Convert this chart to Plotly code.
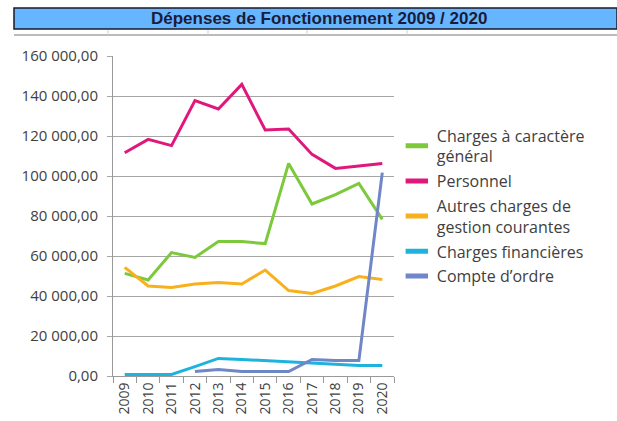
import plotly.graph_objects as go

years = [str(y) for y in range(2009, 2021)]
charges_generales = [51300, 48000, 61700, 59300, 67200, 67200, 66200, 106300, 86000, 90700, 96300, 78300]
personnel = [111600, 118300, 115200, 137700, 133500, 145800, 123000, 123500, 110800, 103800, 105000, 106300]
autres_charges = [54300, 45000, 44200, 46000, 46700, 46000, 53000, 42700, 41300, 45000, 49700, 48300]
charges_financieres = [800, 800, 800, 4700, 8800, 8300, 7700, 6800, 6300, 5800, 5200, 5200]
compte_ordre = [None, None, None, 2200, 3300, 2200, 2200, 2200, 8300, 7700, 7700, 101700]

series = [
    ("Charges à caractère<br>général", charges_generales, "#7DC93C"),
    ("Personnel", personnel, "#E0187C"),
    ("Autres charges de<br>gestion courantes", autres_charges, "#F8B01C"),
    ("Charges financières", charges_financieres, "#1DB3DE"),
    ("Compte d’ordre", compte_ordre, "#6F86C8"),
]

fig = go.Figure()
for i, (name, vals, col) in enumerate(series):
    fig.add_trace(go.Scatter(x=years, y=vals, mode="lines", name=name,
                             line=dict(color=col, width=3), showlegend=False,
                             connectgaps=False))
for i, (name, vals, col) in enumerate(series):
    fig.add_trace(go.Scatter(x=[None], y=[None], mode="markers", name=name,
                             legendgroup="g%d" % i,
                             marker=dict(symbol="line-ew", size=16,
                                         line=dict(color=col, width=5))))

FONT = "Open Sans"
PW = 281.0
PH = 320.0


def px(p):
    return (p - 113) / PW


def py(p):
    return (376 - p) / PH


shapes = [
    dict(type="rect", xref="paper", yref="paper",
         x0=px(14), x1=px(617), y0=py(29), y1=py(8),
         fillcolor="#66B5FF", line=dict(color="#1a1a2a", width=1.5)),
    dict(type="line", xref="paper", yref="paper",
         x0=px(14), x1=px(617), y0=py(35), y1=py(35),
         line=dict(color="#BBBBBB", width=2)),
]
for cx in [108, 208, 307, 407]:
    shapes.append(dict(type="line", xref="paper", yref="paper",
                       x0=px(cx), x1=px(cx), y0=py(35), y1=py(30),
                       line=dict(color="#D0D0D0", width=1)))

fig.update_layout(
    width=617, height=421,
    margin=dict(l=113, r=223, t=56, b=45),
    paper_bgcolor="white", plot_bgcolor="white",
    separators=", ",
    font=dict(family=FONT, size=13, color="#404040"),
    showlegend=True,
    legend=dict(x=1.01, y=0.805, xanchor="left", yanchor="top",
                font=dict(family=FONT, size=16, color="#404040"),
                traceorder="grouped", tracegroupgap=1,
                itemwidth=30, bgcolor="rgba(0,0,0,0)"),
    xaxis=dict(type="category", showgrid=False, ticks="outside", tickson="boundaries",
               ticklen=6, tickcolor="#999999", showline=True, linecolor="#999999",
               tickangle=-90, tickfont=dict(family=FONT, size=14, color="#404040"),
               range=[-0.5, 11.5], automargin=False),
    yaxis=dict(range=[0, 160000], dtick=20000, tickformat=",.2f",
               showgrid=True, gridcolor="#A6A6A6", gridwidth=1,
               ticks="outside", ticklen=5, tickcolor="#A6A6A6",
               showline=True, linecolor="#999999", zeroline=False,
               tickfont=dict(family=FONT, size=15, color="#404040"),
               ticklabelstandoff=6, automargin=False),
    shapes=shapes,
    annotations=[
        dict(text="<b>Dépenses de Fonctionnement 2009 / 2020</b>", xref="paper", yref="paper",
             x=px(319), y=py(19), showarrow=False,
             xanchor="center", yanchor="middle",
             font=dict(family="Liberation Sans", size=17, color="#1B1B3A")),
    ],
)

fig.write_html("out.html")
